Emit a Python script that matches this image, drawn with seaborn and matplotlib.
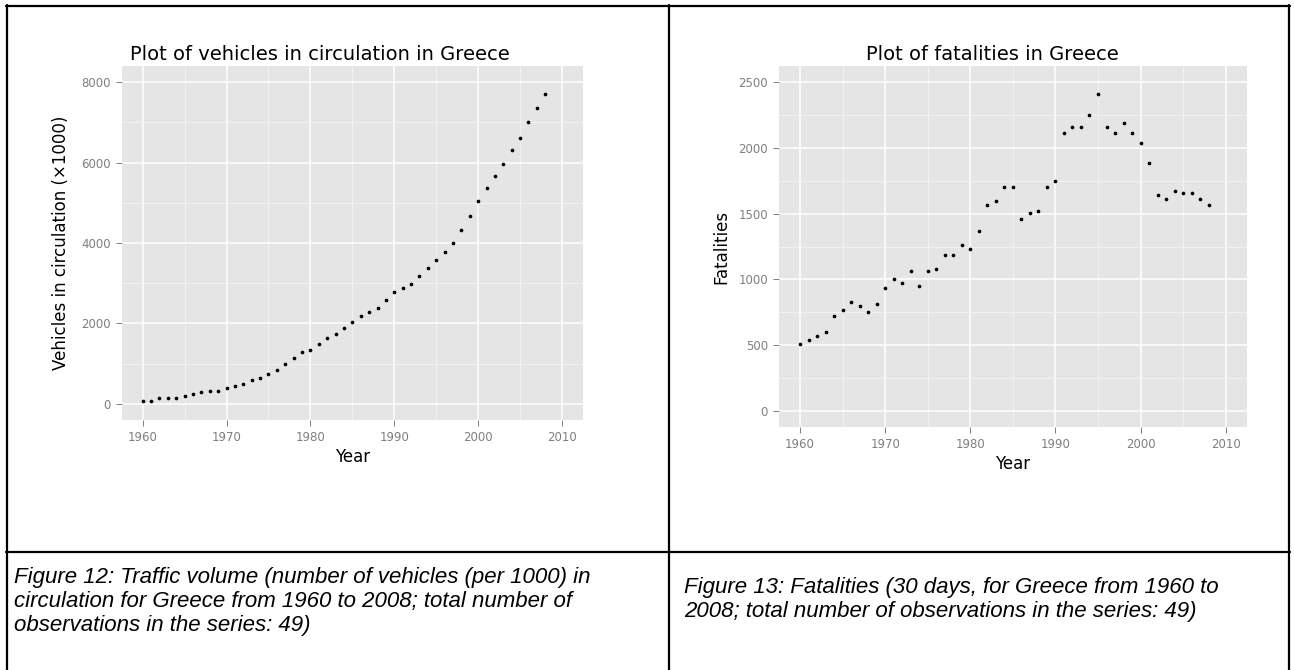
import matplotlib
matplotlib.use("Agg")
import matplotlib.pyplot as plt
from matplotlib.lines import Line2D
from matplotlib.ticker import FixedLocator
import pandas as pd
import seaborn as sns

# ---- data -------------------------------------------------------------
years = list(range(1960, 2009))

vehicles = [83, 83, 140, 140, 140, 190, 248, 290, 331, 331,
            389, 438, 496, 596, 637, 736, 836, 984, 1133, 1282,
            1332, 1481, 1630, 1729, 1878, 2027, 2176, 2275, 2374, 2573,
            2780, 2871, 2970, 3169, 3367, 3566, 3764, 4012, 4318, 4666,
            5055, 5361, 5659, 5957, 6304, 6602, 6999, 7346, 7694]

fatalities = [505, 538, 569, 600, 722, 768, 829, 798, 753, 814,
              936, 1000, 969, 1061, 952, 1061, 1077, 1184, 1184, 1260,
              1230, 1367, 1566, 1597, 1704, 1704, 1459, 1505, 1520, 1704,
              1750, 2117, 2163, 2163, 2255, 2408, 2163, 2117, 2194, 2117,
              2041, 1888, 1643, 1612, 1673, 1658, 1658, 1612, 1566]

year_ticks = [1960, 1970, 1980, 1990, 2000, 2010]
year_minor = [1965, 1975, 1985, 1995, 2005]
vehicle_ticks = [0, 2000, 4000, 6000, 8000]
vehicle_minor = [1000, 3000, 5000, 7000]
fatality_ticks = [0, 500, 1000, 1500, 2000, 2500]
fatality_minor = [250, 750, 1250, 1750, 2250]

title_left = "Plot of vehicles in circulation in Greece"
title_right = "Plot of fatalities in Greece"
ylabel_left = "Vehicles in circulation (\u00d71000)"
ylabel_right = "Fatalities"
xlabel = "Year"

caption_left = ["Figure 12: Traffic volume (number of vehicles (per 1000) in",
                "circulation for Greece from 1960 to 2008; total number of",
                "observations in the series: 49)"]
caption_right = ["Figure 13: Fatalities (30 days, for Greece from 1960 to",
                 "2008; total number of observations in the series: 49)"]

df = pd.DataFrame({"Year": years, "Vehicles": vehicles, "Fatalities": fatalities})

# ---- style ------------------------------------------------------------
sns.set_theme(style="darkgrid")
plt.rcParams["font.family"] = ["DejaVu Sans"]
CAPTION_FONT = ["Liberation Sans", "DejaVu Sans"]

W, H = 1294, 670
fig = plt.figure(figsize=(W / 100, H / 100), dpi=100)
fig.patch.set_facecolor("white")


def px_axes(left, top, right, bottom):
    return fig.add_axes([left / W, 1 - bottom / H, (right - left) / W, (bottom - top) / H])


def style_axes(ax, yt, ym, ylim):
    ax.set_facecolor("#E5E5E5")
    for s in ax.spines.values():
        s.set_visible(False)
    ax.set_xlim(1957.5, 2012.5)
    ax.set_ylim(*ylim)
    ax.xaxis.set_major_locator(FixedLocator(year_ticks))
    ax.xaxis.set_minor_locator(FixedLocator(year_minor))
    ax.yaxis.set_major_locator(FixedLocator(yt))
    ax.yaxis.set_minor_locator(FixedLocator(ym))
    ax.grid(which="major", color="white", linewidth=1.1)
    ax.grid(which="minor", color="#F2F2F2", linewidth=0.7)
    ax.set_axisbelow(True)
    ax.tick_params(which="major", bottom=True, left=True, direction="out",
                   length=4.3, width=0.7, color="#7F7F7F", pad=3.5,
                   labelsize=8.5, labelcolor="#7F7F7F")
    ax.tick_params(which="minor", length=0)


# ---- left panel: vehicles ---------------------------------------------
ax1 = px_axes(121.7, 66, 583, 420)
sns.scatterplot(data=df, x="Year", y="Vehicles", ax=ax1, color="black",
                s=7, linewidth=0, marker="o", legend=False)
style_axes(ax1, vehicle_ticks, vehicle_minor, (-400, 8400))
ax1.set_xlabel(xlabel, fontsize=12, color="black", labelpad=3)
ax1.set_ylabel(ylabel_left, fontsize=12, color="black", labelpad=8)

# ---- right panel: fatalities ------------------------------------------
ax2 = px_axes(778.7, 66, 1247, 427)
sns.scatterplot(data=df, x="Year", y="Fatalities", ax=ax2, color="black",
                s=7, linewidth=0, marker="o", legend=False)
style_axes(ax2, fatality_ticks, fatality_minor, (-125, 2625))
ax2.set_xlabel(xlabel, fontsize=12, color="black", labelpad=3)
ax2.set_ylabel(ylabel_right, fontsize=12, color="black", labelpad=6)

# ---- titles -------------------------------------------------------------
fig.text(320 / W, 1 - 55 / H, title_left, ha="center", va="center",
         fontsize=14, color="black")
fig.text(992 / W, 1 - 55 / H, title_right, ha="center", va="center",
         fontsize=14, color="black")

# ---- captions -----------------------------------------------------------
for i, line in enumerate(caption_left):
    fig.text(14 / W, 1 - (577 + 24 * i) / H, line, ha="left", va="center",
             fontsize=16, style="italic", color="black", family=CAPTION_FONT)
for i, line in enumerate(caption_right):
    fig.text(684 / W, 1 - (587 + 24 * i) / H, line, ha="left", va="center",
             fontsize=16, style="italic", color="black", family=CAPTION_FONT)

# ---- table frame --------------------------------------------------------
def hline(y, x0, x1, lw=1.6):
    fig.add_artist(Line2D([x0 / W, x1 / W], [1 - y / H, 1 - y / H],
                          color="black", linewidth=lw))


def vline(x, y0, y1, lw=1.6):
    fig.add_artist(Line2D([x / W, x / W], [1 - y0 / H, 1 - y1 / H],
                          color="black", linewidth=lw))


hline(6, 6, 1290)
hline(552, 6, 1290)
vline(7, 5, 671)
vline(669, 5, 671)
vline(1289, 5, 671)

fig.savefig("out.png", dpi=100, facecolor="white")
